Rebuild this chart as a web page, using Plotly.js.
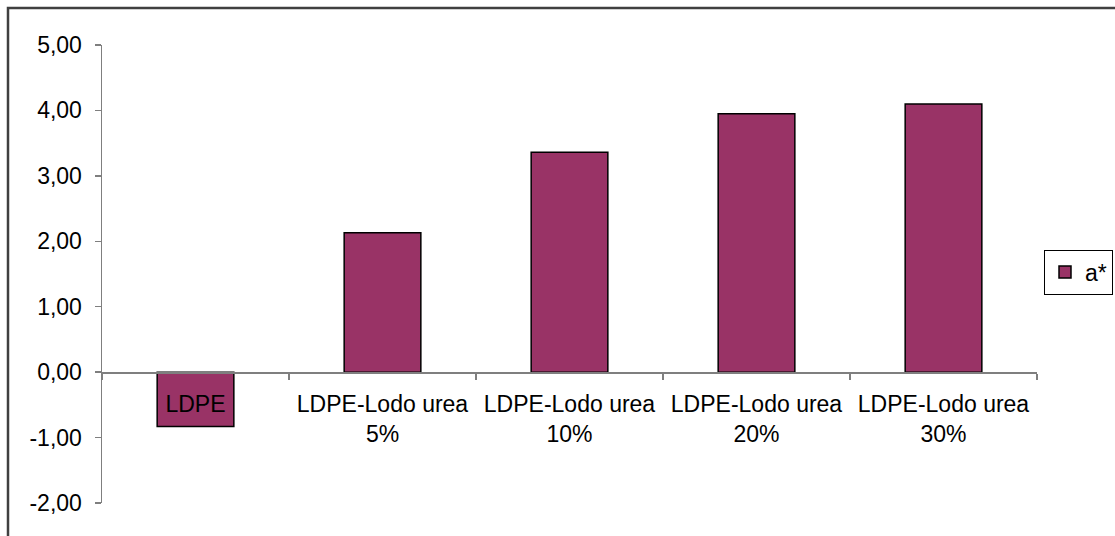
<!DOCTYPE html>
<html>
<head>
<meta charset="utf-8">
<script src="https://cdn.plot.ly/plotly-3.0.1.min.js"></script>
<style>
  html, body { margin: 0; padding: 0; background: #ffffff; }
  #chart { width: 1115px; height: 536px; }
</style>
</head>
<body>
<div id="chart"></div>
<script>
const categories = ['LDPE', 'LDPE-Lodo urea<br>5%', 'LDPE-Lodo urea<br>10%', 'LDPE-Lodo urea<br>20%', 'LDPE-Lodo urea<br>30%'];
const aStarValues = [-0.83, 2.13, 3.36, 3.95, 4.10];
const seriesName = 'a*';
const yTickValues = [-2, -1, 0, 1, 2, 3, 4, 5];
const yTickLabels = ['-2,00', '-1,00', '0,00', '1,00', '2,00', '3,00', '4,00', '5,00'];
const yRange = [-2, 5];

const font = 'Liberation Sans, Arial, sans-serif';
const axisGray = '#7f7f7f';

const trace = {
  type: 'bar',
  x: categories,
  y: aStarValues,
  name: seriesName,
  marker: { color: '#993366', line: { color: '#000000', width: 1.5 } },
  showlegend: true,
  hoverinfo: 'x+y'
};

const zeroPos = (0 - yRange[0]) / (yRange[1] - yRange[0]);
const paperW = 1115 - 102 - 2;

const layout = {
  width: 1115,
  height: 536,
  margin: { l: 102, r: 2, t: 45, b: 33 },
  paper_bgcolor: '#ffffff',
  plot_bgcolor: '#ffffff',
  font: { family: font, size: 23, color: '#000000' },
  bargap: 0.59,
  xaxis: {
    type: 'category',
    domain: [0, 935 / paperW],
    anchor: 'free',
    position: zeroPos,
    showline: true,
    linecolor: axisGray,
    linewidth: 1.5,
    ticks: 'outside',
    tickson: 'boundaries',
    ticklen: 6,
    tickcolor: axisGray,
    tickwidth: 1.5,
    showgrid: false,
    zeroline: false,
    ticklabelstandoff: 11,
    tickfont: { family: font, size: 23, color: '#000000' },
    layer: 'above traces'
  },
  yaxis: {
    range: yRange,
    tickvals: yTickValues,
    ticktext: yTickLabels,
    showline: true,
    linecolor: axisGray,
    linewidth: 1.5,
    ticks: 'outside',
    ticklen: 6,
    tickcolor: axisGray,
    tickwidth: 1.5,
    showgrid: false,
    zeroline: false,
    ticklabelstandoff: 8,
    tickfont: { family: font, size: 23, color: '#000000' }
  },
  legend: {
    x: (1113 - 102) / paperW,
    xanchor: 'right',
    y: 0.504,
    yanchor: 'middle',
    bgcolor: '#ffffff',
    bordercolor: '#000000',
    borderwidth: 1,
    font: { family: font, size: 23, color: '#000000' },
    itemwidth: 30
  },
  shapes: [{
    type: 'rect',
    xref: 'paper', yref: 'paper',
    x0: (8 - 102) / paperW, x1: 1.2,
    y0: -0.2, y1: 1.0808,
    line: { color: '#404040', width: 2.5 },
    fillcolor: 'rgba(0,0,0,0)',
    layer: 'below'
  }]
};

Plotly.newPlot('chart', [trace], layout, { displayModeBar: false, staticPlot: true });
</script>
</body>
</html>
